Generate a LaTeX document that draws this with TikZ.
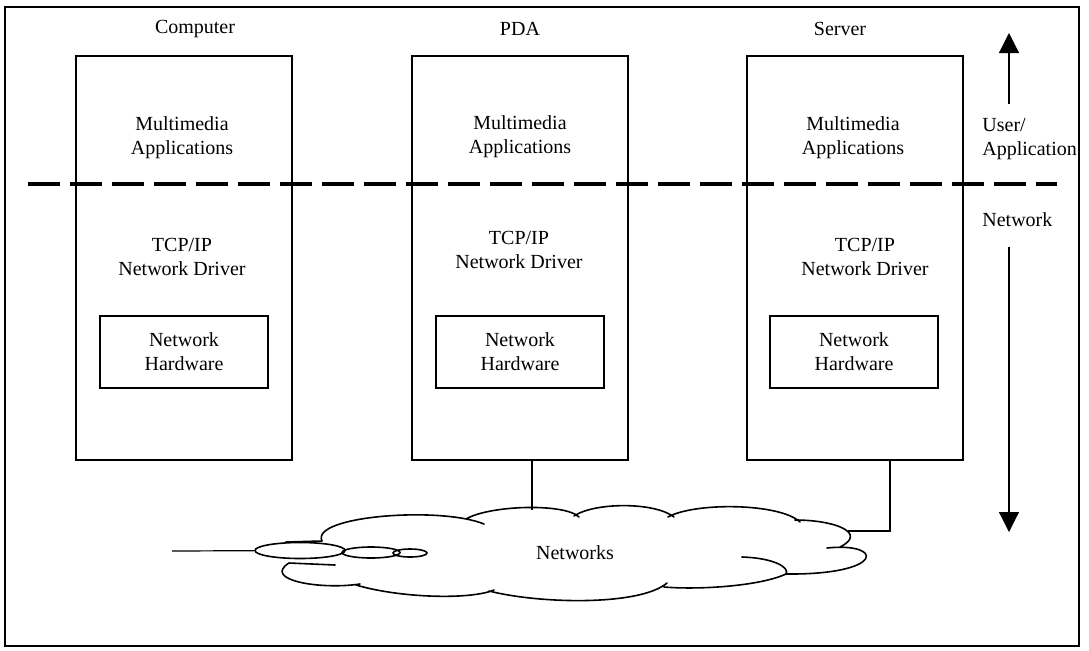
\documentclass[tikz,border=0pt]{standalone}
\usepackage{fontspec}
\setmainfont{Liberation Serif}
\usetikzlibrary{
    arrows.meta,
    positioning,
    shapes.geometric
}
\tikzset{
    % Device column
    devicebox/.style={
        rectangle,
        draw=black,
        line width=0.7pt,
        minimum width=108pt,
        minimum height=202pt,
        inner sep=0pt
    },
    % Hardware box inside a device
    hwbox/.style={
        rectangle,
        draw=black,
        line width=0.7pt,
        minimum width=84pt,
        minimum height=36pt,
        align=center,
        inner sep=0pt
    },
    % Plain text
    layertext/.style={
        align=center,
        font=\normalsize,
        inner sep=1pt
    },
    % Layer arrow
    layerarrow/.style={
        -{Triangle[width=10pt,length=10pt]},
        line width=0.6pt
    },
    % Layer boundary
    splitline/.style={
        dash pattern=on 16pt off 5pt,
        line width=2pt
    },
    wire/.style={line width=0.6pt},
    cloudline/.style={line width=0.8pt, line cap=round},
    % Small rings at the left of the cloud
    lanring/.style={
        ellipse,
        draw=black,
        line width=0.8pt,
        inner sep=0pt
    }
}
\begin{document}
\begin{tikzpicture}[x=0.5pt, y=-0.5pt]

    \useasboundingbox (0,0) rectangle (1089,650);
    \draw[line width=0.7pt] (5,7) rectangle (1079,646);

    % Device columns
    \node[devicebox] (computer) at (184,258) {};
    \node[devicebox] (pda) at (520,258) {};
    \node[devicebox] (server) at (855,258) {};

    % Titles
    \node[layertext] (computer-title) at (195,29) {Computer};
    \node[layertext] (pda-title) at (520,29) {PDA};
    \node[layertext] (server-title) at (840,29) {Server};

    % Application layer
    \node[layertext] (computer-app) at (182,138) {Multimedia\\Applications};
    \node[layertext] (pda-app) at (520,137) {Multimedia\\Applications};
    \node[layertext] (server-app) at (853,138) {Multimedia\\Applications};

    % Driver layer
    \node[layertext] (computer-drv) at (182,257) {TCP/IP\\Network Driver};
    \node[layertext] (pda-drv) at (519,250) {TCP/IP\\Network Driver};
    \node[layertext] (server-drv) at (865,257) {TCP/IP\\Network Driver};

    % Hardware
    \node[hwbox, below=130pt of computer.north] (computer-hw) {Network\\Hardware};
    \node[hwbox, below=130pt of pda.north] (pda-hw) {Network\\Hardware};
    \node[hwbox, below=130pt of server.north, xshift=-0.5pt] (server-hw) {Network\\Hardware};

    % Layer boundary
    \coordinate (split-l) at (28,184);
    \coordinate (split-r) at (1057,184);
    \draw[splitline] (split-l) -- (split-r);

    % Layer labels and arrows
    \node[layertext, align=left, anchor=west] (userapp) at (980,139) {User/\\Application};
    \node[layertext, anchor=west] (netlayer) at (980,220) {Network};
    \coordinate (up-tip) at (1009,33);
    \coordinate (down-tip) at (1009,532);
    \draw[layerarrow, shorten <=6pt] (userapp.north -| up-tip) -- (up-tip);
    \draw[layerarrow, shorten <=9pt] (netlayer.south -| down-tip) -- (down-tip);

    % Cloud
    \draw[cloudline]
        (286,542) -- (322,541)
        (322,541) .. controls (310,516) and (440,506) .. (484,524)
        (466,519) .. controls (490,505) and (565,503) .. (579,517)
        (574,516) .. controls (595,502) and (655,502) .. (674,517)
        (668,517) .. controls (695,502) and (780,503) .. (800,522)
        (795,520) .. controls (835,520) and (868,533) .. (840,547)
        (827,548) .. controls (885,542) and (885,575) .. (786,574)
        (742,557) .. controls (775,558) and (790,568) .. (786,574)
            .. controls (760,586) and (700,590) .. (664,587)
        (667,583) .. controls (640,606) and (540,604) .. (489,591)
        (494,590) .. controls (470,600) and (400,598) .. (356,585)
        (360,584) .. controls (320,590) and (262,580) .. (289,563)
        (289,563) -- (335,565);
    \node[layertext] (networks) at (575,553) {Networks};

    \node[lanring, minimum width=45pt, minimum height=8pt] (lan-a) at (300,550.5) {};
    \node[lanring, minimum width=29pt, minimum height=5.5pt] (lan-b) at (371,552.5) {};
    \node[lanring, minimum width=17pt, minimum height=4pt] (lan-c) at (410,553) {};

    % Links
    \coordinate (lan-in) at (172,551);
    \coordinate (cloud-top) at (532,510);
    \coordinate (cloud-east) at (848,531);
    \draw[wire] (lan-in) -- (lan-a);
    \draw[wire] ([xshift=6pt]pda.south) -- (cloud-top);
    \draw[wire] ([xshift=17.5pt]server.south) |- (cloud-east);

\end{tikzpicture}
\end{document}
